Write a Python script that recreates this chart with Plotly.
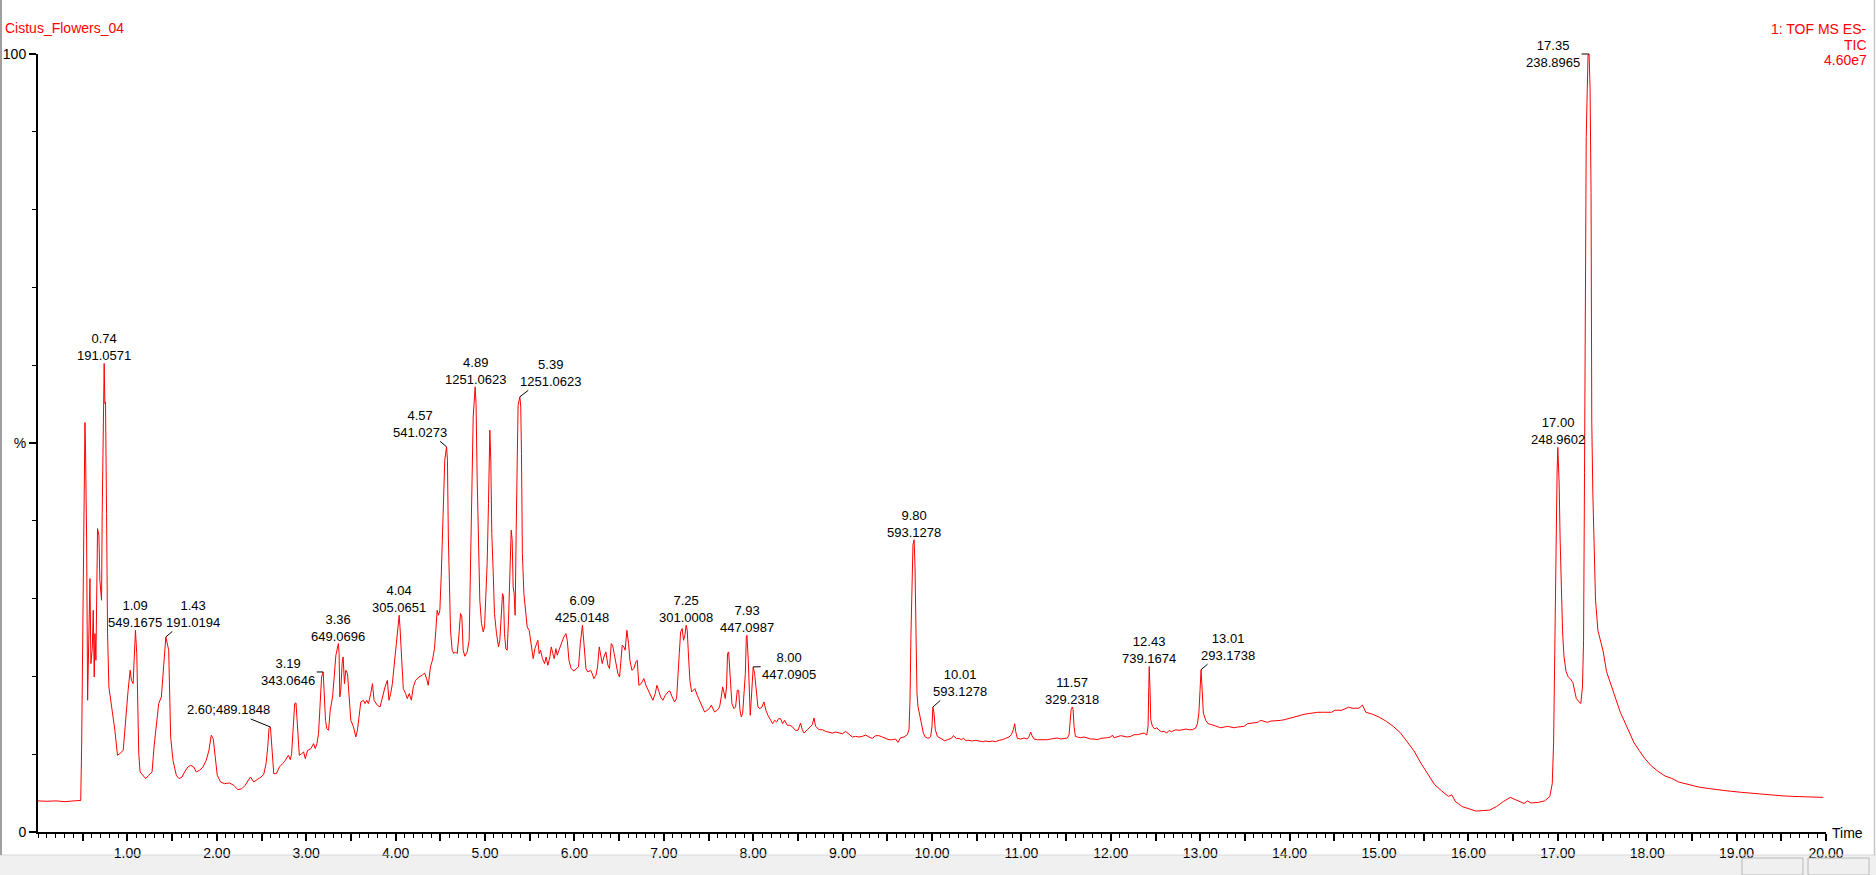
import plotly.graph_objects as go

# ---- chromatogram trace: (retention time [min], relative intensity [%]) ----
TRACE_0_TO_4_4 = [
    (0.00, 4.0), (0.10, 3.95), (0.20, 4.0), (0.30, 3.9), (0.40, 4.0), (0.478, 4.05),
    (0.488, 10.93), (0.506, 29.58), (0.518, 47.36), (0.525, 52.64), (0.532, 49.08), (0.544, 37.51),
    (0.555, 16.93), (0.570, 28.50), (0.581, 32.58), (0.592, 21.65), (0.607, 23.57), (0.618, 28.50),
    (0.629, 19.93), (0.637, 25.50), (0.648, 22.07), (0.666, 39.00), (0.681, 38.15), (0.692, 32.36),
    (0.711, 29.79), (0.718, 40.93), (0.729, 52.50), (0.740, 60.22), (0.748, 55.08), (0.755, 55.29),
    (0.767, 40.93), (0.778, 25.50), (0.793, 18.65), (0.822, 16.50), (0.860, 13.07), (0.889, 9.86),
    (0.915, 10.07), (0.953, 10.50), (0.982, 14.79), (1.008, 18.22), (1.031, 20.79), (1.045, 19.50),
    (1.064, 19.07), (1.075, 21.65), (1.090, 25.93), (1.105, 22.93), (1.112, 16.50), (1.127, 10.07),
    (1.142, 7.72), (1.176, 7.29), (1.205, 6.86), (1.239, 7.29), (1.276, 7.72), (1.298, 10.93),
    (1.324, 13.93), (1.350, 16.50), (1.380, 17.36), (1.399, 20.79), (1.417, 23.79), (1.430, 25.07),
    (1.462, 23.36), (1.473, 18.65), (1.484, 12.22), (1.510, 9.22), (1.547, 7.29), (1.577, 6.86),
    (1.611, 7.07), (1.640, 7.72), (1.677, 8.36), (1.707, 8.57), (1.741, 8.36), (1.770, 7.72),
    (1.808, 7.93), (1.845, 8.36), (1.882, 9.22), (1.912, 10.50), (1.938, 12.43), (1.960, 12.00),
    (1.982, 9.22), (2.005, 7.29), (2.042, 6.43), (2.086, 6.22), (2.142, 6.30), (2.190, 6.00),
    (2.235, 5.44), (2.280, 5.57), (2.317, 6.00), (2.347, 6.64), (2.376, 7.07), (2.413, 6.43),
    (2.458, 6.73), (2.495, 7.07), (2.525, 7.42), (2.551, 8.79), (2.570, 10.93), (2.584, 13.29),
    (2.600, 13.50), (2.614, 10.93), (2.637, 7.50), (2.666, 7.50), (2.700, 8.36), (2.737, 8.79),
    (2.767, 9.22), (2.800, 9.86), (2.822, 9.30), (2.837, 10.07), (2.852, 13.07), (2.871, 16.50),
    (2.886, 16.59), (2.904, 13.50), (2.923, 9.86), (2.949, 10.07), (2.971, 10.29), (2.990, 9.43),
    (3.016, 10.50), (3.053, 10.72), (3.083, 11.36), (3.101, 10.72), (3.120, 11.36), (3.138, 12.64),
    (3.153, 16.07), (3.172, 19.93), (3.190, 20.57), (3.202, 18.22), (3.216, 14.36), (3.231, 13.29),
    (3.250, 13.07), (3.269, 15.65), (3.295, 17.36), (3.313, 19.93), (3.332, 22.72), (3.360, 24.22),
    (3.368, 22.93), (3.376, 17.36), (3.387, 18.22), (3.402, 21.65), (3.413, 22.50), (3.428, 19.07),
    (3.443, 20.79), (3.462, 20.36), (3.480, 17.36), (3.499, 14.36), (3.529, 13.50), (3.555, 12.22),
    (3.573, 13.07), (3.592, 15.22), (3.611, 16.72), (3.640, 16.93), (3.659, 16.50), (3.677, 16.93),
    (3.696, 16.50), (3.722, 17.79), (3.741, 19.07), (3.759, 16.93), (3.796, 16.29), (3.826, 16.07),
    (3.852, 17.36), (3.882, 18.65), (3.908, 19.50), (3.926, 16.93), (3.945, 17.79), (3.964, 19.07),
    (3.982, 21.22), (4.008, 24.65), (4.040, 27.86), (4.049, 26.36), (4.068, 21.22), (4.086, 18.43),
    (4.112, 17.79), (4.131, 17.15), (4.153, 17.79), (4.176, 16.93), (4.198, 18.65), (4.224, 19.50),
    (4.261, 19.93), (4.298, 20.15), (4.324, 20.45), (4.347, 19.72), (4.365, 18.86), (4.384, 20.79),
]

TRACE_4_4_TO_8_5 = [
    (4.390, 21.22), (4.412, 22.07), (4.435, 23.57), (4.450, 25.93), (4.465, 28.50), (4.480, 27.86),
    (4.495, 28.50), (4.510, 32.79), (4.524, 39.22), (4.539, 43.51), (4.550, 47.79), (4.570, 49.51),
    (4.580, 47.79), (4.590, 37.93), (4.600, 30.65), (4.614, 25.93), (4.633, 23.36), (4.652, 22.93),
    (4.670, 23.15), (4.689, 22.93), (4.707, 25.07), (4.726, 28.08), (4.741, 27.65), (4.756, 23.36),
    (4.775, 22.59), (4.801, 23.15), (4.823, 24.65), (4.838, 33.22), (4.853, 44.79), (4.868, 53.36),
    (4.890, 57.22), (4.900, 55.08), (4.912, 45.65), (4.927, 34.93), (4.942, 29.79), (4.961, 26.79),
    (4.980, 25.72), (4.995, 26.36), (5.009, 30.22), (5.024, 34.50), (5.039, 42.22), (5.054, 51.65),
    (5.065, 47.79), (5.076, 38.36), (5.091, 33.65), (5.106, 28.08), (5.129, 25.50), (5.151, 23.79),
    (5.166, 24.65), (5.181, 27.65), (5.196, 30.65), (5.207, 30.22), (5.218, 25.50), (5.233, 23.57),
    (5.248, 23.36), (5.263, 27.22), (5.278, 32.36), (5.293, 38.79), (5.304, 37.51), (5.315, 31.50),
    (5.326, 30.65), (5.337, 27.86), (5.349, 38.79), (5.370, 54.86), (5.390, 55.94), (5.400, 54.65),
    (5.408, 48.65), (5.418, 35.79), (5.435, 30.65), (5.453, 28.08), (5.472, 26.36), (5.494, 25.93),
    (5.517, 23.79), (5.539, 22.29), (5.558, 23.57), (5.573, 24.22), (5.591, 24.65), (5.606, 22.93),
    (5.621, 23.36), (5.643, 22.29), (5.666, 21.65), (5.684, 22.50), (5.703, 21.43), (5.726, 22.50),
    (5.741, 23.79), (5.759, 22.93), (5.774, 22.29), (5.793, 23.57), (5.808, 22.72), (5.827, 23.36),
    (5.845, 24.00), (5.864, 24.43), (5.882, 25.07), (5.905, 25.50), (5.920, 24.65), (5.939, 22.07),
    (5.964, 21.00), (5.994, 20.70), (6.024, 21.00), (6.046, 21.22), (6.066, 24.22), (6.080, 25.93),
    (6.090, 26.58), (6.110, 23.79), (6.129, 21.00), (6.151, 20.57), (6.181, 20.79), (6.199, 20.36),
    (6.218, 19.72), (6.241, 20.15), (6.259, 21.22), (6.278, 23.79), (6.293, 22.93), (6.311, 21.65),
    (6.330, 22.50), (6.352, 23.15), (6.375, 21.43), (6.393, 21.00), (6.412, 24.22), (6.427, 24.00),
    (6.445, 22.93), (6.464, 21.86), (6.486, 20.36), (6.505, 19.93), (6.516, 21.22), (6.535, 24.00),
    (6.553, 23.79), (6.568, 23.36), (6.587, 25.93), (6.606, 24.22), (6.621, 22.07), (6.643, 20.79),
    (6.665, 21.00), (6.688, 21.86), (6.703, 22.07), (6.721, 18.86), (6.747, 19.07), (6.777, 19.72),
    (6.800, 18.86), (6.826, 18.22), (6.852, 17.36), (6.878, 16.93), (6.904, 17.79), (6.923, 18.86),
    (6.941, 18.22), (6.964, 17.36), (6.990, 16.93), (7.016, 17.57), (7.046, 18.00), (7.068, 18.13),
    (7.094, 17.36), (7.120, 16.72), (7.143, 17.15), (7.158, 19.50), (7.173, 22.93), (7.188, 25.72),
    (7.206, 26.15), (7.221, 24.65), (7.236, 25.29), (7.250, 26.58), (7.262, 25.93), (7.277, 22.50),
    (7.292, 19.50), (7.311, 18.00), (7.330, 18.22), (7.348, 18.43), (7.374, 17.57), (7.404, 16.72),
    (7.430, 16.07), (7.456, 15.43), (7.486, 15.65), (7.508, 15.86), (7.531, 16.29), (7.549, 15.86),
    (7.568, 15.43), (7.598, 15.65), (7.624, 16.07), (7.643, 17.36), (7.658, 18.65), (7.672, 18.00),
    (7.687, 17.15), (7.702, 18.65), (7.713, 22.93), (7.725, 23.15), (7.736, 20.79), (7.747, 18.22),
    (7.762, 16.50), (7.785, 15.86), (7.803, 16.07), (7.822, 18.22), (7.837, 18.22), (7.852, 15.65),
    (7.867, 14.79), (7.882, 15.22), (7.897, 17.36), (7.912, 20.36), (7.923, 25.07), (7.930, 25.29),
    (7.945, 22.07), (7.956, 16.93), (7.967, 15.00), (7.978, 16.93), (7.989, 20.36), (8.000, 21.22),
    (8.016, 20.36), (8.031, 18.22), (8.053, 16.07), (8.075, 15.86), (8.098, 16.07), (8.120, 16.72),
    (8.142, 15.65), (8.165, 15.00), (8.195, 14.36), (8.217, 13.93), (8.240, 14.36), (8.262, 14.14),
    (8.284, 14.57), (8.307, 14.57), (8.329, 13.93), (8.351, 14.36), (8.381, 13.72), (8.411, 13.72),
    (8.441, 13.50), (8.471, 13.07), (8.501, 13.07),
]

TRACE_8_5_TO_14 = [
    (8.530, 14.00), (8.549, 13.15), (8.568, 12.72), (8.605, 13.15), (8.642, 13.58), (8.661, 13.79),
    (8.680, 14.65), (8.698, 13.58), (8.736, 13.15), (8.773, 13.15), (8.810, 12.93), (8.847, 12.85),
    (8.885, 12.72), (8.922, 12.85), (8.959, 12.72), (8.997, 12.63), (9.034, 12.93), (9.071, 12.51),
    (9.109, 12.21), (9.146, 12.29), (9.183, 12.21), (9.220, 12.29), (9.258, 12.46), (9.295, 12.21),
    (9.332, 12.04), (9.370, 12.38), (9.407, 12.38), (9.444, 12.21), (9.482, 12.08), (9.519, 11.86),
    (9.556, 11.86), (9.593, 11.95), (9.619, 11.52), (9.649, 12.12), (9.687, 12.21), (9.724, 12.51),
    (9.743, 13.15), (9.754, 17.00), (9.765, 25.57), (9.776, 34.13), (9.787, 36.92), (9.800, 37.56),
    (9.810, 34.13), (9.821, 25.57), (9.832, 17.86), (9.843, 16.15), (9.858, 15.29), (9.881, 14.00),
    (9.903, 12.72), (9.925, 12.21), (9.948, 12.08), (9.970, 12.08), (9.985, 12.29), (10.000, 13.58),
    (10.010, 16.06), (10.022, 15.29), (10.037, 13.15), (10.060, 12.29), (10.090, 12.08), (10.116, 11.86),
    (10.142, 11.73), (10.172, 11.86), (10.194, 11.95), (10.217, 12.04), (10.239, 12.38), (10.254, 12.21),
    (10.276, 11.99), (10.302, 12.04), (10.328, 11.86), (10.351, 12.04), (10.377, 11.78), (10.414, 11.78),
    (10.451, 11.69), (10.489, 11.78), (10.526, 11.69), (10.563, 11.61), (10.601, 11.69), (10.638, 11.61),
    (10.675, 11.69), (10.713, 11.61), (10.750, 11.78), (10.787, 11.86), (10.824, 12.04), (10.862, 12.21),
    (10.888, 12.51), (10.910, 13.15), (10.925, 13.92), (10.936, 12.93), (10.955, 12.04), (10.992, 11.95),
    (11.030, 12.08), (11.067, 11.95), (11.086, 12.29), (11.104, 12.85), (11.119, 12.38), (11.142, 11.95),
    (11.179, 11.86), (11.216, 11.86), (11.254, 11.78), (11.291, 11.86), (11.328, 11.95), (11.365, 12.04),
    (11.403, 12.08), (11.440, 11.95), (11.477, 12.04), (11.515, 12.08), (11.533, 12.51), (11.544, 14.43),
    (11.556, 15.72), (11.570, 16.06), (11.578, 15.72), (11.589, 13.58), (11.604, 12.29), (11.626, 12.21),
    (11.664, 12.12), (11.701, 12.21), (11.738, 12.04), (11.776, 11.95), (11.813, 11.95), (11.850, 11.86),
    (11.888, 12.04), (11.925, 12.04), (11.962, 12.12), (11.999, 12.21), (12.018, 12.46), (12.037, 12.12),
    (12.074, 12.21), (12.111, 12.38), (12.149, 12.29), (12.186, 12.21), (12.223, 12.29), (12.261, 12.51),
    (12.298, 12.51), (12.335, 12.63), (12.372, 12.72), (12.402, 12.46), (12.417, 13.58), (12.425, 18.72),
    (12.430, 21.28), (12.440, 17.86), (12.447, 14.43), (12.466, 13.58), (12.492, 13.23), (12.515, 13.40),
    (12.540, 13.06), (12.567, 12.89), (12.597, 12.93), (12.626, 12.72), (12.652, 13.06), (12.678, 12.89),
    (12.701, 13.06), (12.727, 13.15), (12.764, 13.06), (12.801, 13.15), (12.839, 13.23), (12.876, 13.15),
    (12.913, 13.15), (12.950, 13.36), (12.969, 13.92), (12.985, 15.29), (12.995, 17.22), (13.003, 19.57),
    (13.010, 20.86), (13.022, 18.29), (13.035, 15.29), (13.062, 14.35), (13.088, 13.92), (13.118, 13.83),
    (13.155, 13.66), (13.193, 13.58), (13.230, 13.40), (13.267, 13.49), (13.305, 13.58), (13.342, 13.49),
    (13.379, 13.40), (13.417, 13.49), (13.454, 13.58), (13.491, 13.58), (13.528, 13.92), (13.566, 14.00),
    (13.603, 14.09), (13.640, 14.09), (13.678, 14.35), (13.715, 14.18), (13.752, 14.09), (13.790, 14.26),
    (13.827, 14.26), (13.864, 14.35), (13.901, 14.35), (13.939, 14.43), (13.976, 14.52),
]

TRACE_14_TO_20 = [
    (14.007, 14.60), (14.084, 14.87), (14.161, 15.13), (14.238, 15.26), (14.315, 15.39), (14.392, 15.39),
    (14.469, 15.39), (14.507, 15.65), (14.584, 15.65), (14.661, 16.04), (14.699, 15.91), (14.776, 15.91),
    (14.815, 16.31), (14.853, 15.39), (14.930, 15.13), (15.007, 14.73), (15.084, 14.21), (15.161, 13.56),
    (15.238, 12.77), (15.315, 11.59), (15.392, 10.41), (15.469, 8.84), (15.545, 7.53), (15.622, 6.09),
    (15.699, 5.30), (15.776, 4.58), (15.815, 4.78), (15.853, 3.93), (15.930, 3.27), (16.007, 2.95),
    (16.084, 2.69), (16.161, 2.75), (16.238, 2.82), (16.315, 3.27), (16.392, 3.93), (16.469, 4.45),
    (16.545, 4.06), (16.622, 3.67), (16.661, 4.00), (16.699, 3.73), (16.776, 3.80), (16.853, 4.00),
    (16.911, 4.58), (16.938, 6.22), (16.953, 11.46), (16.969, 27.18), (16.980, 38.97), (16.992, 46.17),
    (17.000, 49.44), (17.015, 44.86), (17.026, 37.66), (17.038, 31.76), (17.053, 25.87), (17.069, 22.59),
    (17.092, 20.63), (17.115, 19.97), (17.142, 19.65), (17.169, 19.19), (17.192, 18.14), (17.207, 17.16),
    (17.230, 16.83), (17.257, 16.50), (17.276, 18.66), (17.288, 24.56), (17.299, 46.17), (17.307, 74.33),
    (17.318, 89.39), (17.330, 95.61), (17.338, 99.87), (17.350, 100.0), (17.361, 95.61), (17.372, 82.19),
    (17.380, 52.72), (17.392, 43.55), (17.403, 37.00), (17.422, 29.80), (17.449, 25.87), (17.476, 24.56),
    (17.507, 23.25), (17.545, 20.63), (17.584, 19.32), (17.622, 18.01), (17.661, 16.70), (17.699, 15.39),
    (17.738, 14.41), (17.776, 13.42), (17.815, 12.44), (17.853, 11.46), (17.911, 10.48), (17.969, 9.50),
    (18.045, 8.51), (18.122, 7.79), (18.199, 7.20), (18.276, 6.88), (18.353, 6.42), (18.468, 6.09),
    (18.584, 5.76), (18.699, 5.57), (18.815, 5.37), (18.930, 5.24), (19.045, 5.11), (19.161, 4.98),
    (19.276, 4.91), (19.392, 4.78), (19.507, 4.65), (19.622, 4.58), (19.738, 4.52), (19.853, 4.45),
    (19.969, 4.45),
]

# ---- peak labels ----
LABEL_TIMES = [0.74, 1.09, 1.43, 2.60, 3.19, 3.36, 4.04, 4.57, 4.89, 5.39, 6.09,
               7.25, 7.93, 8.00, 9.80, 10.01, 11.57, 12.43, 13.01, 17.00, 17.35]
LABEL_MZ = ["191.0571", "549.1675", "191.0194", "489.1848", "343.0646", "649.0696",
            "305.0651", "541.0273", "1251.0623", "1251.0623", "425.0148", "301.0008",
            "447.0987", "447.0905", "593.1278", "593.1278", "329.2318", "739.1674",
            "293.1738", "248.9602", "238.8965"]

# ---- axis tick labels ----
X_LABEL_VALUES = list(range(1, 21))
X_TICK_TEXT = ["%.2f" % v for v in X_LABEL_VALUES]
Y_TICK_VALUES = [0, 50, 100]
Y_TICK_TEXT = ["0", "%", "100"]

HEADER_LEFT = "Cistus_Flowers_04"
HEADER_RIGHT = ["1: TOF MS ES-", "TIC", "4.60e7"]

# label placement style: (kind, dx px, dy px)
PLACEMENT = [
    ("above", 0, 0), ("above", 0, 0), ("lead", 27, -23), ("lead_inline", -42, -17),
    ("lead", -35, 0), ("above", 0, 0), ("above", 0, 0), ("lead", -27, -23),
    ("above", 0, 0), ("lead", 31, -24), ("above", 0, 0), ("above", 0, 0),
    ("above", 0, 0), ("lead", 36, -1), ("above", 0, 0), ("lead", 27, -24),
    ("above", 0, 0), ("above", 0, 0), ("lead", 27, -23), ("above", 0, 0),
    ("lead", -36, 0),
]

FONT = "Liberation Sans, Arial, sans-serif"
RED = "#ff0000"

times, vals = [], []
for seg in (TRACE_0_TO_4_4, TRACE_4_4_TO_8_5, TRACE_8_5_TO_14, TRACE_14_TO_20):
    for t, v in seg:
        times.append(t)
        vals.append(v)

fig = go.Figure()
fig.add_trace(go.Scatter(x=times, y=vals, mode="lines",
                         line=dict(color=RED, width=1), hoverinfo="skip",
                         showlegend=False))


def peak_value(t):
    i = min(range(len(times)), key=lambda k: abs(times[k] - t))
    return vals[i]


label_font = dict(family=FONT, size=13, color="#000000")
annotations = []
for t, mz, (kind, dx, dy) in zip(LABEL_TIMES, LABEL_MZ, PLACEMENT):
    py = peak_value(t)
    if kind == "lead_inline":
        text = "%.2f;%s" % (t, mz)
    else:
        text = "%.2f<br>%s" % (t, mz)
    if kind == "above":
        annotations.append(dict(x=t, y=py, xref="x", yref="y", text=text,
                                showarrow=False, xanchor="center", yanchor="middle",
                                yshift=16, font=label_font, align="center"))
    else:
        annotations.append(dict(x=t, y=py, xref="x", yref="y", text=text,
                                showarrow=True, arrowhead=0, arrowwidth=1,
                                arrowcolor="#000000", ax=dx, ay=dy, standoff=0,
                                font=label_font, align="center"))

# plot area in pixels: x 38..1826, y 54..832
W, H = 1876, 875
L, R, T, B = 38, 50, 54, 43
PW, PH = W - L - R, H - T - B


def px(xpix):
    return (xpix - L) / PW


def py_(ypix):
    return (H - B - ypix) / PH


hdr_font = dict(family=FONT, size=14, color=RED)
annotations.append(dict(x=px(3), y=py_(28.3), xref="paper", yref="paper",
                        text=HEADER_LEFT, showarrow=False, xanchor="left",
                        yanchor="middle", font=hdr_font))
for line, yp in zip(HEADER_RIGHT, [28.8, 44.8, 60.4]):
    annotations.append(dict(x=px(1869), y=py_(yp), xref="paper", yref="paper",
                            text=line, showarrow=False, xanchor="right",
                            yanchor="middle", font=hdr_font))
annotations.append(dict(x=px(1830), y=py_(833), xref="paper", yref="paper",
                        text="Time", showarrow=False, xanchor="left",
                        yanchor="middle", font=dict(family=FONT, size=14, color="#000000")))

shapes = [
    # bottom status bar
    dict(type="rect", xref="paper", yref="paper", x0=px(0), x1=px(W), y0=py_(H), y1=py_(855),
         fillcolor="#f0f0f0", line=dict(width=0), layer="below"),
    dict(type="line", xref="paper", yref="paper", x0=px(0), x1=px(W), y0=py_(855), y1=py_(855),
         line=dict(color="#d9d9d9", width=1)),
    dict(type="rect", xref="paper", yref="paper", x0=px(1742), x1=px(1803), y0=py_(H), y1=py_(858),
         fillcolor="#f0f0f0", line=dict(color="#b8b8b8", width=1)),
    dict(type="rect", xref="paper", yref="paper", x0=px(1808), x1=px(1869), y0=py_(H), y1=py_(858),
         fillcolor="#f0f0f0", line=dict(color="#b8b8b8", width=1)),
    # window borders
    dict(type="line", xref="paper", yref="paper", x0=px(1), x1=px(1), y0=py_(0), y1=py_(855),
         line=dict(color="#a0a0a0", width=2)),
    dict(type="line", xref="paper", yref="paper", x0=px(1874.5), x1=px(1874.5), y0=py_(0), y1=py_(855),
         line=dict(color="#c8c8c8", width=1.5)),
]

x_tickvals = [k * 0.5 for k in range(1, 41)]
x_ticktext = []
for v in x_tickvals:
    if v == int(v):
        x_ticktext.append(X_TICK_TEXT[X_LABEL_VALUES.index(int(v))])
    else:
        x_ticktext.append("")

fig.update_layout(
    width=W, height=H,
    margin=dict(l=L, r=R, t=T, b=B, pad=0, autoexpand=False),
    paper_bgcolor="white", plot_bgcolor="white",
    font=dict(family=FONT, size=14, color="#000000"),
    showlegend=False,
    annotations=annotations,
    shapes=shapes,
    xaxis=dict(range=[0, 20], showline=True, linecolor="#000000", linewidth=2,
               showgrid=False, zeroline=False, ticks="outside", ticklen=7,
               tickwidth=1.5, tickcolor="#000000", tickmode="array",
               tickvals=x_tickvals, ticktext=x_ticktext, automargin=False,
               tickfont=dict(family=FONT, size=14, color="#000000"),
               minor=dict(tick0=0, dtick=0.1, ticks="outside", ticklen=4,
                          tickwidth=1, tickcolor="#000000", showgrid=False),
               fixedrange=True),
    yaxis=dict(range=[0, 100], showline=True, linecolor="#000000", linewidth=2,
               showgrid=False, zeroline=False, ticks="outside", ticklen=7,
               tickwidth=1.5, tickcolor="#000000", tickmode="array",
               tickvals=Y_TICK_VALUES, ticktext=Y_TICK_TEXT, automargin=False,
               tickfont=dict(family=FONT, size=14, color="#000000"),
               minor=dict(tick0=0, dtick=10, ticks="outside", ticklen=4,
                          tickwidth=1, tickcolor="#000000", showgrid=False),
               fixedrange=True),
)

fig.write_html(
    "out.html",
    config={"displayModeBar": False, "responsive": False},
    post_script="document.body.style.margin='0';document.body.style.overflow='hidden';",
)
